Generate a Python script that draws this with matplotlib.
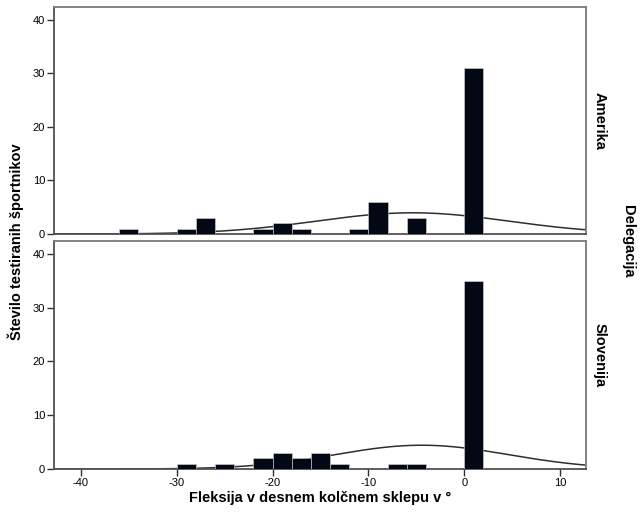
import numpy as np
import matplotlib
matplotlib.use("Agg")
import matplotlib.pyplot as plt

plt.rcParams['font.family'] = ['Liberation Sans', 'DejaVu Sans']
plt.rcParams['axes.unicode_minus'] = False

# levi robovi razredov (sirina 2) in frekvence
amerika_bins = [-36, -30, -28, -22, -20, -18, -12, -10, -6, 0]
amerika_counts = [1, 1, 3, 1, 2, 1, 1, 6, 3, 31]

slovenija_bins = [-30, -26, -22, -20, -18, -16, -14, -8, -6, 0]
slovenija_counts = [1, 1, 2, 3, 2, 3, 1, 1, 1, 35]

panel_labels = ["Amerika", "Slovenija"]
x_ticks = [-40, -30, -20, -10, 0, 10]
y_ticks = [0, 10, 20, 30, 40]
bin_width = 2

fig = plt.figure(figsize=(6.4, 5.14), dpi=100)
ax_top = fig.add_axes([0.0844, 0.5447, 0.8313, 0.4416])
ax_bot = fig.add_axes([0.0844, 0.0875, 0.8313, 0.4436])

bar_col = '#020814'
spine_col = '#7a7a7a'


def risi(ax, bins, counts, label, spodnji):
    bins = np.array(bins, dtype=float)
    counts = np.array(counts, dtype=float)
    ax.bar(bins, counts, width=bin_width, align='edge', color=bar_col,
           edgecolor='#d8d8d8', linewidth=0.4, zorder=3)

    # normalna krivulja iz sredin razredov
    mid = bins + bin_width / 2
    n = counts.sum()
    mean = (mid * counts).sum() / n
    sd = np.sqrt(((mid - mean) ** 2 * counts).sum() / (n - 1))
    xs = np.linspace(-42.8, 12.7, 400)
    ys = n * bin_width / (sd * np.sqrt(2 * np.pi)) * np.exp(-0.5 * ((xs - mean) / sd) ** 2)
    ax.plot(xs, ys, color='#2e2e2e', lw=1.1, zorder=2)

    ax.set_xlim(-42.8, 12.7)
    ax.set_ylim(0, 42.4)
    ax.set_yticks(y_ticks)
    ax.set_xticks(x_ticks)
    for s in ax.spines.values():
        s.set_color(spine_col)
        s.set_linewidth(1.3)
    ax.spines['bottom'].set_color('#505050')
    ax.spines['left'].set_color('#505050')
    ax.tick_params(axis='both', length=5, width=1, color='#303030',
                   labelsize=8, pad=1.5)
    if not spodnji:
        ax.tick_params(axis='x', bottom=False, labelbottom=False)
    ax.text(1.012, 0.5, label, transform=ax.transAxes, rotation=-90,
            ha='left', va='center', fontsize=10.5, fontweight='bold')


risi(ax_top, amerika_bins, amerika_counts, panel_labels[0], False)
risi(ax_bot, slovenija_bins, slovenija_counts, panel_labels[1], True)

fig.text(0.024, 0.53, "Število testiranih športnikov", rotation=90,
         ha='center', va='center', fontsize=10.5, fontweight='bold')
fig.text(0.5, 0.032, "Fleksija v desnem kolčnem sklepu v °",
         ha='center', va='center', fontsize=10.5, fontweight='bold')
fig.text(0.981, 0.53, "Delegacija", rotation=-90,
         ha='center', va='center', fontsize=10.5, fontweight='bold')

fig.savefig("out.png", dpi=100)
